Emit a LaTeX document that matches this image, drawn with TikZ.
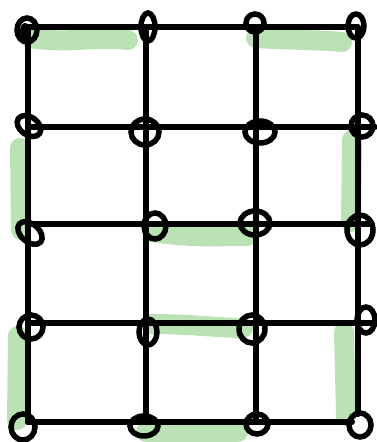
\documentclass[tikz,border=0pt]{standalone}
\begin{document}
\begin{tikzpicture}[x=1pt,y=-1pt,
  gridline/.style={line width=6pt,line cap=round,black},
  loop/.style={line width=5.5pt,black},
  hl/.style={line width=20pt,line cap=round,draw=hlgreen}]
\definecolor{hlgreen}{RGB}{187,226,180}
\useasboundingbox (0,0) rectangle (377,442);
% grid coordinates
\foreach \c/\x in {a/28,b/146,c/256,d/358}{
  \foreach \r/\y in {1/27,2/127,3/224,4/323,5/422}{
    \coordinate (\c\r) at (\x,\y);
  }}
\coordinate (e1) at (357,27);
\coordinate (e2) at (375,127);
\coordinate (e3) at (372,224);
\coordinate (e4) at (375,323);
\coordinate (e5) at (352,422);
\coordinate (d5b) at (358,414);
% green highlights
\draw[hl] (30,38) .. controls (70,44) and (95,36) .. (128,40);
\draw[hl] (256,38) .. controls (290,40) and (320,40) .. (342,42);
\draw[hl] (20,148) -- (21,230);
\draw[hl] (352,140) -- (351,222);
\draw[hl] (152,232) .. controls (190,238) and (220,236) .. (247,236);
\draw[hl] (152,324) .. controls (190,324) and (220,328) .. (243,328);
\draw[hl] (18,336) -- (17,420);
\draw[hl] (344,332) -- (346,416);
\draw[hl] (146,432) .. controls (180,433) and (210,432) .. (238,432);
% grid lines
\foreach \r in {1,2,3,4,5}{ \draw[gridline] (a\r) -- (e\r); }
\draw[gridline] (a1) -- (a5);
\draw[gridline] (b1) -- (b5);
\draw[gridline] (c1) -- (c5);
\draw[gridline] (d1) -- (d5b);
% loops at intersections
\draw[loop] (27,30) ellipse [x radius=10,y radius=12];
\fill (25,31) ellipse [x radius=5,y radius=8];
\draw[loop] (148,27) ellipse [x radius=7,y radius=14];
\draw[loop] (255,23) ellipse [x radius=9,y radius=9];
\draw[loop] (356,26) ellipse [x radius=8,y radius=12];
\draw[loop,rotate around={-35:(29,126)}] (29,126) ellipse [x radius=13,y radius=9];
\draw[loop] (145,132) ellipse [x radius=14,y radius=13];
\draw[loop] (260,132) ellipse [x radius=15,y radius=11];
\draw[loop] (362,126) ellipse [x radius=11,y radius=11];
\draw[loop,rotate around={-40:(30,233)}] (30,233) ellipse [x radius=14,y radius=9];
\draw[loop] (155,226) ellipse [x radius=11,y radius=13];
\draw[loop] (255,223) ellipse [x radius=15,y radius=12];
\draw[loop] (360,230) ellipse [x radius=13,y radius=15];
\draw[loop] (31,327) ellipse [x radius=12,y radius=12];
\draw[loop] (148,332) ellipse [x radius=9,y radius=13];
\draw[loop] (252,329) ellipse [x radius=13,y radius=14];
\draw[loop] (366,320) ellipse [x radius=9,y radius=13];
\draw[loop] (23,427) ellipse [x radius=12,y radius=13];
\draw[loop] (144,426) ellipse [x radius=14,y radius=10];
\draw[loop] (257,424) ellipse [x radius=11,y radius=10];
\draw[loop] (360,425) ellipse [x radius=11,y radius=12];
\end{tikzpicture}
\end{document}
